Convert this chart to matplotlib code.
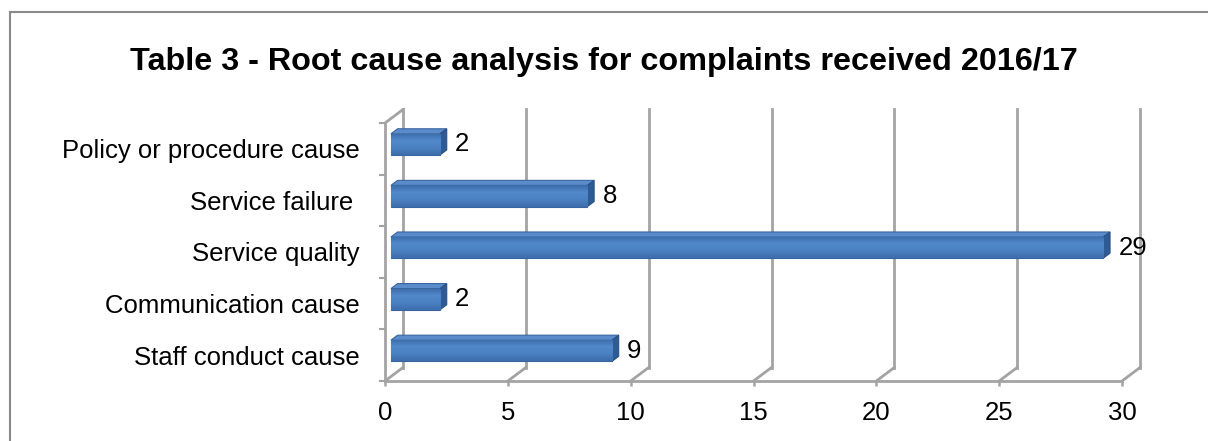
import numpy as np
import matplotlib.pyplot as plt
from matplotlib.patches import Polygon, Rectangle
from matplotlib.colors import LinearSegmentedColormap

# data (bottom to top)
categories = ['Staff conduct cause', 'Communication cause', 'Service quality',
              'Service failure ', 'Policy or procedure cause']
counts = [9, 2, 29, 8, 2]
xticks = [0, 5, 10, 15, 20, 25, 30]
title = 'Table 3 - Root cause analysis for complaints received 2016/17'

plt.rcParams['font.family'] = ['Liberation Sans', 'DejaVu Sans']

W, H = 1208, 441
fig = plt.figure(figsize=(W / 100, H / 100), dpi=100)
ax = fig.add_axes([385 / W, 60 / H, 737 / W, 258 / H])
ax.set_xlim(0, 30)
ax.set_ylim(-0.5, 4.5)
for s in ax.spines.values():
    s.set_visible(False)

# fake 3d depth, expressed in data units
DX = 18 * 30 / 737
DY = 13.5 * 5 / 258
grid_c = '#A3A3A3'
lw = 2.0

ylo, yhi = -0.5, 4.5
for t in xticks:
    ax.plot([t + DX, t + DX], [ylo + DY, yhi + DY], color=grid_c, lw=lw, clip_on=False, zorder=1)
    ax.plot([t, t + DX], [ylo, ylo + DY], color=grid_c, lw=lw, clip_on=False, zorder=1)
ax.plot([0, 30], [ylo, ylo], color=grid_c, lw=lw, clip_on=False, zorder=1)
ax.plot([0, 0], [ylo, yhi], color=grid_c, lw=lw, clip_on=False, zorder=1)
ax.plot([0, DX], [yhi, yhi + DY], color=grid_c, lw=lw, clip_on=False, zorder=1)

ax.set_xticks(xticks)
ax.tick_params(axis='x', length=3.6, width=1.8, color=grid_c, pad=11, labelsize=18.5)
ax.set_yticks(range(len(categories)), categories)
ax.tick_params(axis='y', which='major', length=0, pad=18, labelsize=18.5)
ax.set_yticks(np.arange(-0.5, len(categories), 1), minor=True)
ax.tick_params(axis='y', which='minor', length=4.3, width=1.5, color=grid_c)

# bars
h = 0.41
f0, f1 = 0.33, 0.70
d = f1 - f0
grad = LinearSegmentedColormap.from_list('g', ['#3B6BA9', '#5189CB', '#4B81C3', '#3D6DAB'])
for i, v in enumerate(counts):
    x0 = f0 * DX
    y0 = i - h / 2 + f0 * DY
    front = Rectangle((x0, y0), v, h, facecolor='#4A80C2', edgecolor='#3A66A0', lw=0.8, zorder=3)
    ax.add_patch(front)
    im = ax.imshow(np.linspace(1, 0, 50).reshape(-1, 1), cmap=grad, aspect='auto',
                   extent=(x0, x0 + v, y0, y0 + h), zorder=3.1, origin='lower')
    im.set_clip_path(front)
    top = Polygon([(x0, y0 + h), (x0 + v, y0 + h), (x0 + v + d * DX, y0 + h + d * DY),
                   (x0 + d * DX, y0 + h + d * DY)], closed=True,
                  facecolor='#5A8CCB', edgecolor='#3A66A0', lw=0.8, zorder=3)
    side = Polygon([(x0 + v, y0), (x0 + v + d * DX, y0 + d * DY),
                    (x0 + v + d * DX, y0 + h + d * DY), (x0 + v, y0 + h)], closed=True,
                   facecolor='#2F5B94', edgecolor='#2A5086', lw=0.8, zorder=3)
    ax.add_patch(top)
    ax.add_patch(side)
    ax.annotate(str(v), (x0 + v, i + f0 * DY), xytext=(15, 0), textcoords='offset pixels',
                va='center', ha='left', fontsize=18.5, annotation_clip=False)

ax.set_xlim(0, 30)
ax.set_ylim(-0.5, 4.5)

fig.text(0.5, 1 - 70 / H, title, ha='center', va='baseline', fontsize=23.3, fontweight='bold')

# chart area border
fig.patches.append(Rectangle((10 / W, -0.05), 1.1, 1 - 12 / H + 0.05, transform=fig.transFigure,
                             fill=False, edgecolor='#8A8A8A', lw=1.5))

fig.savefig('out.png', dpi=100)
